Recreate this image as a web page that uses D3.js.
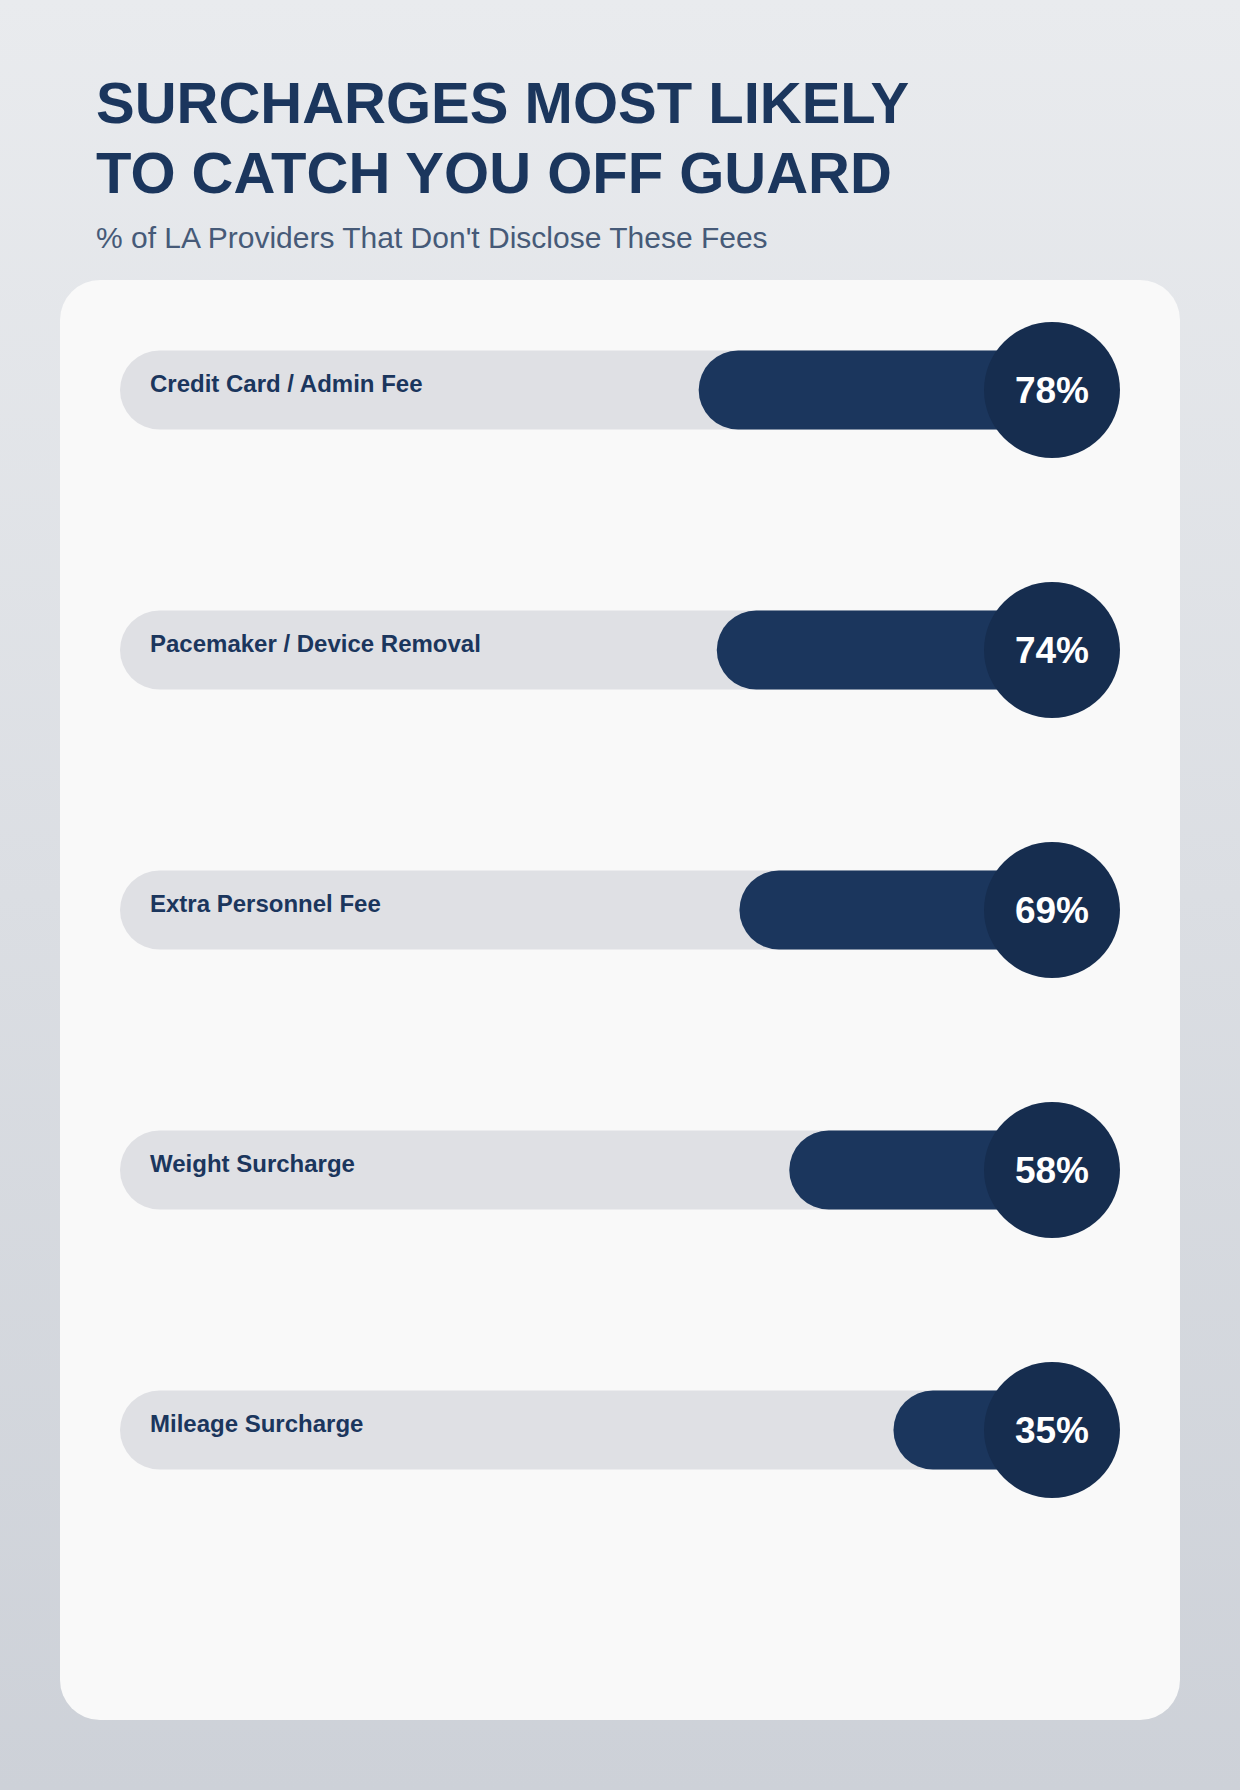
<html>
<head>
  <script src="https://d3js.org/d3.v7.min.js"></script>
  <style type="text/css">
    body { margin: 0; padding: 0; }
    svg { display: block; font-family: "Liberation Sans", Arial, sans-serif; }
  </style>
</head>
<body>
  <svg id="chart" width="1240" height="1790"></svg>

<script>
// chart data
var fees = ["Credit Card / Admin Fee", "Pacemaker / Device Removal", "Extra Personnel Fee", "Weight Surcharge", "Mileage Surcharge"];
var pctUndisclosed = [78, 74, 69, 58, 35];
var titleLines = ["SURCHARGES MOST LIKELY", "TO CATCH YOU OFF GUARD"];
var subtitle = "% of LA Providers That Don't Disclose These Fees";

var navy = "#1b365d",
    navyDark = "#162d4f",
    trackGrey = "#dfe0e4";

var svg = d3.select("#chart"),
    width = +svg.attr("width"),
    height = +svg.attr("height");

// page background gradient
var defs = svg.append("defs");
var grad = defs.append("linearGradient")
    .attr("id", "bg")
    .attr("x1", 0).attr("y1", 0).attr("x2", 0).attr("y2", 1);
grad.append("stop").attr("offset", "0%").attr("stop-color", "#e9ebee");
grad.append("stop").attr("offset", "100%").attr("stop-color", "#cdd1d8");

svg.append("rect")
    .attr("width", width)
    .attr("height", height)
    .attr("fill", "url(#bg)");

// heading
svg.selectAll(".title")
  .data(titleLines)
  .enter()
  .append("text")
    .attr("class", "title")
    .attr("x", 96)
    .attr("y", function(d, i) { return 123 + i * 70; })
    .text(function(d) { return d; })
    .style("font-size", "58px")
    .style("font-weight", "bold")
    .style("fill", navy);

svg.append("text")
    .attr("x", 96)
    .attr("y", 248)
    .text(subtitle)
    .style("font-size", "30px")
    .style("fill", "#465a78");

// white card
svg.append("rect")
    .attr("x", 60)
    .attr("y", 280)
    .attr("width", 1120)
    .attr("height", 1440)
    .attr("rx", 40)
    .attr("fill", "#f9f9f9");

// layout scales
var y = d3.scalePoint()
    .domain(fees)
    .range([390, 1430]);

var barH = 79,
    trackLeft = 120,
    bubbleX = 1052,
    bubbleR = 68;

var w = d3.scaleLinear()
    .domain([0, 100])
    .range([0, 453]);

var rows = svg.selectAll(".row")
  .data(fees)
  .enter()
  .append("g")
    .attr("class", "row")
    .attr("transform", function(d) { return "translate(0," + y(d) + ")"; });

// grey track
rows.append("rect")
    .attr("x", trackLeft)
    .attr("y", -barH / 2)
    .attr("width", bubbleX - trackLeft)
    .attr("height", barH)
    .attr("rx", barH / 2)
    .attr("fill", trackGrey);

// value bar, grows leftwards from the bubble
rows.append("rect")
    .attr("x", function(d, i) { return bubbleX - w(pctUndisclosed[i]); })
    .attr("y", -barH / 2)
    .attr("width", function(d, i) { return w(pctUndisclosed[i]); })
    .attr("height", barH)
    .attr("rx", barH / 2)
    .attr("fill", navy);

rows.append("text")
    .attr("x", 150)
    .attr("y", 2)
    .text(function(d) { return d; })
    .style("font-size", "24px")
    .style("font-weight", "bold")
    .style("fill", navy);

rows.append("circle")
    .attr("cx", bubbleX)
    .attr("cy", 0)
    .attr("r", bubbleR)
    .attr("fill", navyDark);

rows.append("text")
    .attr("x", bubbleX)
    .attr("y", 13)
    .attr("text-anchor", "middle")
    .text(function(d, i) { return pctUndisclosed[i] + "%"; })
    .style("font-size", "37px")
    .style("font-weight", "bold")
    .style("fill", "#ffffff");
</script>
</body>
</html>
